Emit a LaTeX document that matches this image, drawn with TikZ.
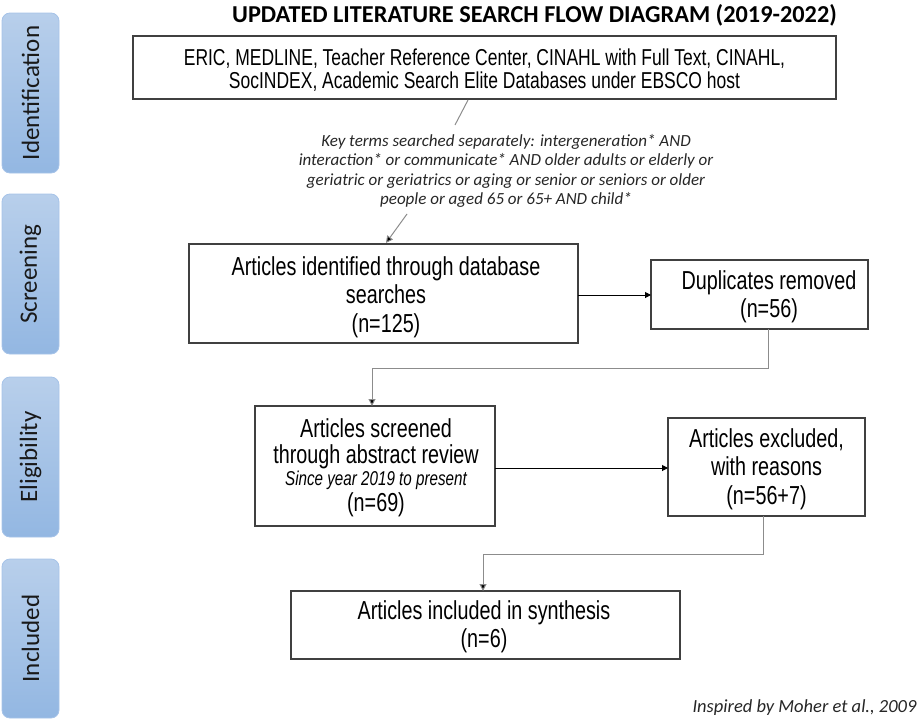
\documentclass[tikz,border=0pt]{standalone}
\usepackage{fontspec}
\setmainfont{Carlito}
\newfontfamily\narrowfont[FakeStretch=0.76]{Liberation Sans}
\usetikzlibrary{arrows.meta}
\definecolor{stagetop}{HTML}{B8CFEB}
\definecolor{stagebot}{HTML}{93B7E2}
\definecolor{stageedge}{HTML}{A6C3E8}
\definecolor{boxedge}{HTML}{404040}
\definecolor{linkgray}{HTML}{8C8C8C}
\tikzset{
  stage/.style={rounded corners=8pt, top color=stagetop, bottom color=stagebot, draw=stageedge, line width=0.8pt},
  stagetext/.style={rotate=90, font=\fontsize{25}{28}\selectfont, text=black!90},
  flowbox/.style={draw=boxedge, line width=1.2pt, fill=white},
  flowtext/.style={align=center, font=\narrowfont\fontsize{26}{28.5}\selectfont},
  link/.style={draw=linkgray, line width=1pt},
  arrowlink/.style={draw=black, line width=1pt, -{Triangle[length=6pt,width=6pt]}},
  grayarrow/.style={draw=linkgray, line width=1pt, -{Triangle[length=7pt,width=7pt,fill=black]}},
}
\begin{document}
\begin{tikzpicture}[x=1pt,y=-1pt]
\useasboundingbox (0,0) rectangle (923,720);

% stage bands on the left
\draw[stage] (2,13) rectangle (59,173);
\draw[stage] (2,194) rectangle (59,354);
\draw[stage] (2,377) rectangle (59,537);
\draw[stage] (2,559) rectangle (59,718);
\node[stagetext] (sIdent) at (30.5,93) {Identification};
\node[stagetext] (sScreen) at (30.5,274) {Screening};
\node[stagetext] (sElig) at (30.5,457) {Eligibility};
\node[stagetext] (sIncl) at (30.5,638.5) {Included};

% title
\node[font=\bfseries\fontsize{24.3}{26}\selectfont] (title) at (534.5,15) {UPDATED LITERATURE SEARCH FLOW DIAGRAM (2019-2022)};

% flow boxes
\draw[flowbox] (133,36) rectangle (836,99);
\node[flowtext, font=\narrowfont\fontsize{23}{22.5}\selectfont] (db) at (484.5,70) {ERIC, MEDLINE, Teacher Reference Center, CINAHL with Full Text, CINAHL,\\SocINDEX, Academic Search Elite Databases under EBSCO host};

\node[align=center, font=\itshape\fontsize{17}{19.2}\selectfont, text=black!85] (terms) at (506,171)
  {Key terms searched separately: intergeneration* AND\\
   interaction* or communicate* AND older adults or elderly or\\
   geriatric or geriatrics or aging or senior or seniors or older\\
   people or aged 65 or 65+ AND child*};

\draw[flowbox] (189,244) rectangle (578,343);
\node[flowtext] (ident) at (386,297) {Articles identified through database\\searches\\(n=125)};

\draw[flowbox] (651,260) rectangle (868,329);
\node[flowtext] (dup) at (769,297) {Duplicates removed\\(n=56)};

\draw[flowbox] (255,406) rectangle (495,526);
\node[flowtext, font=\narrowfont\fontsize{26}{25.5}\selectfont] (screen) at (376,468)
  {Articles screened\\through abstract review\\[-3pt]{\itshape\fontsize{20}{22}\selectfont Since year 2019 to present}\\(n=69)};

\draw[flowbox] (668,418) rectangle (865,516);
\node[flowtext] (excl) at (766.5,469) {Articles excluded,\\with reasons\\(n=56+7)};

\draw[flowbox] (291,591) rectangle (680,659);
\node[flowtext] (incl) at (484,627) {Articles included in synthesis\\(n=6)};

\node[anchor=east, font=\itshape\fontsize{18.5}{20}\selectfont, text=black!85] (credit) at (920,708) {Inspired by Moher et al., 2009};

% connectors
\coordinate (dbFoot) at (468,100);
\coordinate (termsTop) at (455,125);
\coordinate (termsFoot) at (407,214);
\coordinate (identTop) at (386,243);
\draw[link] (dbFoot) -- (termsTop);
\draw[grayarrow] (termsFoot) -- (identTop);

\coordinate (identRight) at (578,295);
\coordinate (dupLeft) at (651,295);
\draw[arrowlink] (identRight) -- (dupLeft);

\coordinate (dupFoot) at (768,329);
\coordinate (screenTop) at (372,406);
\draw[grayarrow] (dupFoot) -- (768,368) -| (screenTop);

\coordinate (screenRight) at (495,468);
\coordinate (exclLeft) at (668,468);
\draw[arrowlink] (screenRight) -- (exclLeft);

\coordinate (exclFoot) at (763,516);
\coordinate (inclTop) at (483,591);
\draw[grayarrow] (exclFoot) -- (763,554) -| (inclTop);
\end{tikzpicture}
\end{document}
